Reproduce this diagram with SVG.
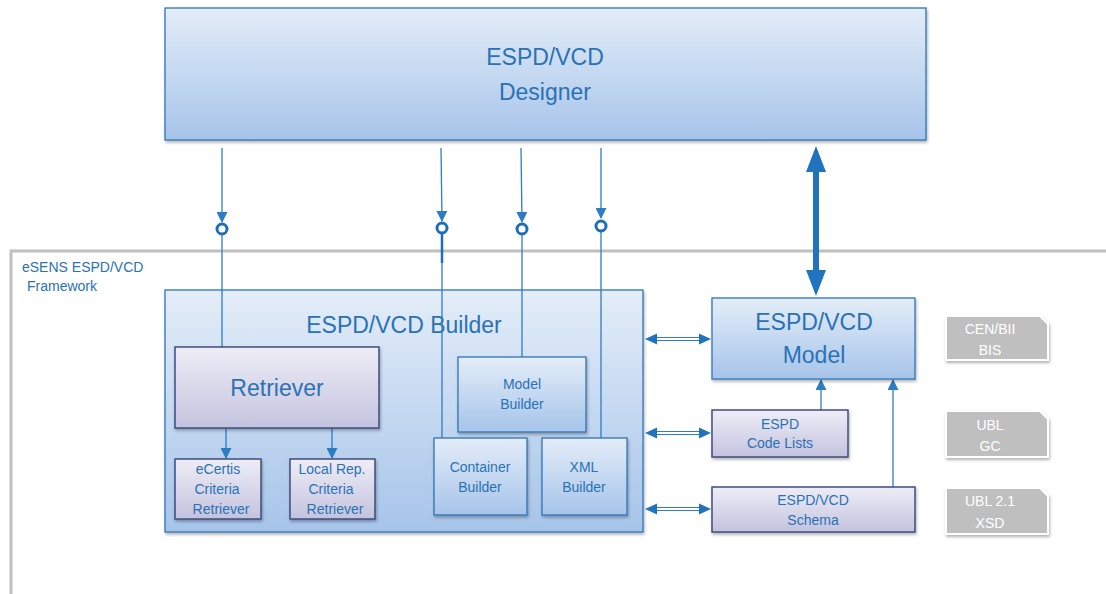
<svg xmlns="http://www.w3.org/2000/svg" width="1106" height="594" viewBox="0 0 1106 594">
<style>
.t{font-family:"Liberation Sans",Arial,sans-serif;fill:#2a72b5;text-anchor:middle}
.big{font-size:23px}
.sm{font-size:14px}
.tag{font-family:"Liberation Sans",Arial,sans-serif;fill:#ffffff;text-anchor:middle;font-size:14px}
.blue{fill:url(#gBlue);stroke:#2e75b6;stroke-width:1.3}
.lav{fill:url(#gLav);stroke:#3f4c80;stroke-width:1.5}
.ln{stroke:#2e7dc4;stroke-width:1.3;fill:none}
.ring{fill:#fff;stroke:#1a6fb8;stroke-width:3}
.g{fill:#bfbfbf;stroke:#fff;stroke-width:2}
</style>
<defs>
<linearGradient id="gBlue" x1="0" y1="0" x2="0" y2="1">
<stop offset="0" stop-color="#e4edf8"/>
<stop offset="1" stop-color="#a6c4ea"/>
</linearGradient>
<linearGradient id="gLav" x1="0" y1="0" x2="0" y2="1">
<stop offset="0" stop-color="#eeedf6"/>
<stop offset="1" stop-color="#c4c3df"/>
</linearGradient>
<filter id="sh" x="-10%" y="-10%" width="120%" height="130%">
<feDropShadow dx="1" dy="2" stdDeviation="1.5" flood-color="#000" flood-opacity="0.3"/>
</filter>
<marker id="ah" markerUnits="userSpaceOnUse" markerWidth="11" markerHeight="11" refX="10" refY="5.5" orient="auto">
<path d="M0,0 L11,5.5 L0,11 Z" fill="#2e7dc4"/>
</marker>
</defs>

<rect width="1106" height="594" fill="#fff"/>

<g id="framework">
<path d="M11,594 V251 H1106" fill="none" stroke="#c0c0c0" stroke-width="3"/>
<text class="t sm" x="22" y="272" style="text-anchor:start">eSENS ESPD/VCD</text>
<text class="t sm" x="27" y="291" style="text-anchor:start">Framework</text>
</g>

<g id="designer">
<rect class="blue" x="165" y="8" width="761" height="132" filter="url(#sh)"/>
<text class="t big" x="545" y="65">ESPD/VCD</text>
<text class="t big" x="545" y="100">Designer</text>
</g>

<g id="builder">
<rect class="blue" x="165" y="290" width="478" height="242" filter="url(#sh)"/>
<text class="t big" x="404" y="333">ESPD/VCD Builder</text>
</g>

<g id="connectors">
<line class="ln" x1="222" y1="148" x2="222" y2="222" marker-end="url(#ah)"/>
<line class="ln" x1="441" y1="148" x2="442" y2="221" marker-end="url(#ah)"/>
<line class="ln" x1="521" y1="148" x2="522" y2="222" marker-end="url(#ah)"/>
<line class="ln" x1="601" y1="148" x2="601" y2="218" marker-end="url(#ah)"/>
<line class="ln" x1="222" y1="234" x2="222" y2="347"/>
<line class="ln" x1="442" y1="233" x2="442" y2="438"/>
<line x1="442" y1="233" x2="442" y2="263" stroke="#1a6fb8" stroke-width="2.5"/>
<line class="ln" x1="522" y1="234" x2="522" y2="357"/>
<line class="ln" x1="601" y1="231" x2="601" y2="438"/>
<circle class="ring" cx="222" cy="229" r="5"/>
<circle class="ring" cx="442" cy="228" r="5"/>
<circle class="ring" cx="522" cy="229" r="5"/>
<circle class="ring" cx="601" cy="226" r="5"/>
<line class="ln" x1="226" y1="428" x2="226" y2="458" marker-end="url(#ah)"/>
<line class="ln" x1="332" y1="428" x2="332" y2="458" marker-end="url(#ah)"/>
<line class="ln" x1="821" y1="410" x2="821" y2="380" marker-end="url(#ah)"/>
<line class="ln" x1="893" y1="487" x2="893" y2="380" marker-end="url(#ah)"/>
<g fill="#1f74bd" stroke="none">
<path d="M813,172 H819 V270 H813 Z"/>
<path d="M816,146 L826,172 L806,172 Z"/>
<path d="M816,296 L826,270 L806,270 Z"/>
</g>
<g id="dbl">
<g stroke="#2e7dc4" stroke-width="1.2">
<line x1="655" y1="337.5" x2="701" y2="337.5"/><line x1="655" y1="340.5" x2="701" y2="340.5"/>
<line x1="655" y1="431.5" x2="701" y2="431.5"/><line x1="655" y1="434.5" x2="701" y2="434.5"/>
<line x1="655" y1="507.5" x2="701" y2="507.5"/><line x1="655" y1="510.5" x2="701" y2="510.5"/>
</g>
<g fill="#1f74bd">
<path d="M645,339 L657,333.5 L657,344.5 Z"/><path d="M711,339 L699,333.5 L699,344.5 Z"/>
<path d="M645,433 L657,427.5 L657,438.5 Z"/><path d="M711,433 L699,427.5 L699,438.5 Z"/>
<path d="M645,509 L657,503.5 L657,514.5 Z"/><path d="M711,509 L699,503.5 L699,514.5 Z"/>
</g>
</g>
</g>

<g id="retriever">
<rect class="lav" x="175" y="347" width="204" height="81" filter="url(#sh)"/>
<text class="t big" x="277" y="396">Retriever</text>
</g>
<g id="ecertis">
<rect class="lav" x="175" y="459" width="86" height="60" filter="url(#sh)"/>
<text class="t sm" x="218" y="474">eCertis</text>
<text class="t sm" x="217" y="494">Criteria</text>
<text class="t sm" x="221" y="514">Retriever</text>
</g>
<g id="localrep">
<rect class="lav" x="290" y="459" width="85" height="60" filter="url(#sh)"/>
<text class="t sm" x="332" y="474">Local Rep.</text>
<text class="t sm" x="331" y="494">Criteria</text>
<text class="t sm" x="335" y="514">Retriever</text>
</g>
<g id="modelbuilder">
<rect class="blue" x="458" y="357" width="128" height="75" filter="url(#sh)"/>
<text class="t sm" x="522" y="389">Model</text>
<text class="t sm" x="522" y="409">Builder</text>
</g>
<g id="containerbuilder">
<rect class="blue" x="434" y="438" width="93" height="77" filter="url(#sh)"/>
<text class="t sm" x="480" y="472">Container</text>
<text class="t sm" x="480" y="492">Builder</text>
</g>
<g id="xmlbuilder">
<rect class="blue" x="542" y="438" width="85" height="77" filter="url(#sh)"/>
<text class="t sm" x="584" y="472">XML</text>
<text class="t sm" x="584" y="492">Builder</text>
</g>

<g id="model">
<rect class="blue" x="712" y="298" width="203" height="81" filter="url(#sh)"/>
<text class="t big" x="814" y="330">ESPD/VCD</text>
<text class="t big" x="814" y="363">Model</text>
</g>
<g id="codelists">
<rect class="lav" x="712" y="410" width="136" height="47" filter="url(#sh)"/>
<text class="t sm" x="780" y="429">ESPD</text>
<text class="t sm" x="780" y="448">Code Lists</text>
</g>
<g id="schema">
<rect class="lav" x="712" y="487" width="203" height="45" filter="url(#sh)"/>
<text class="t sm" x="813" y="505">ESPD/VCD</text>
<text class="t sm" x="813" y="525">Schema</text>
</g>

<g id="cenbii">
<path class="g" d="M946,316 H1040 L1048,324 V360 H946 Z" filter="url(#sh)"/>
<text class="tag" x="990" y="334">CEN/BII</text>
<text class="tag" x="990" y="355">BIS</text>
</g>
<g id="ublgc">
<path class="g" d="M946,411 H1040 L1048,419 V457 H946 Z" filter="url(#sh)"/>
<text class="tag" x="990" y="430">UBL</text>
<text class="tag" x="990" y="451">GC</text>
</g>
<g id="ublxsd">
<path class="g" d="M946,488 H1040 L1048,496 V534 H946 Z" filter="url(#sh)"/>
<text class="tag" x="990" y="506">UBL 2.1</text>
<text class="tag" x="990" y="528">XSD</text>
</g>
</svg>
